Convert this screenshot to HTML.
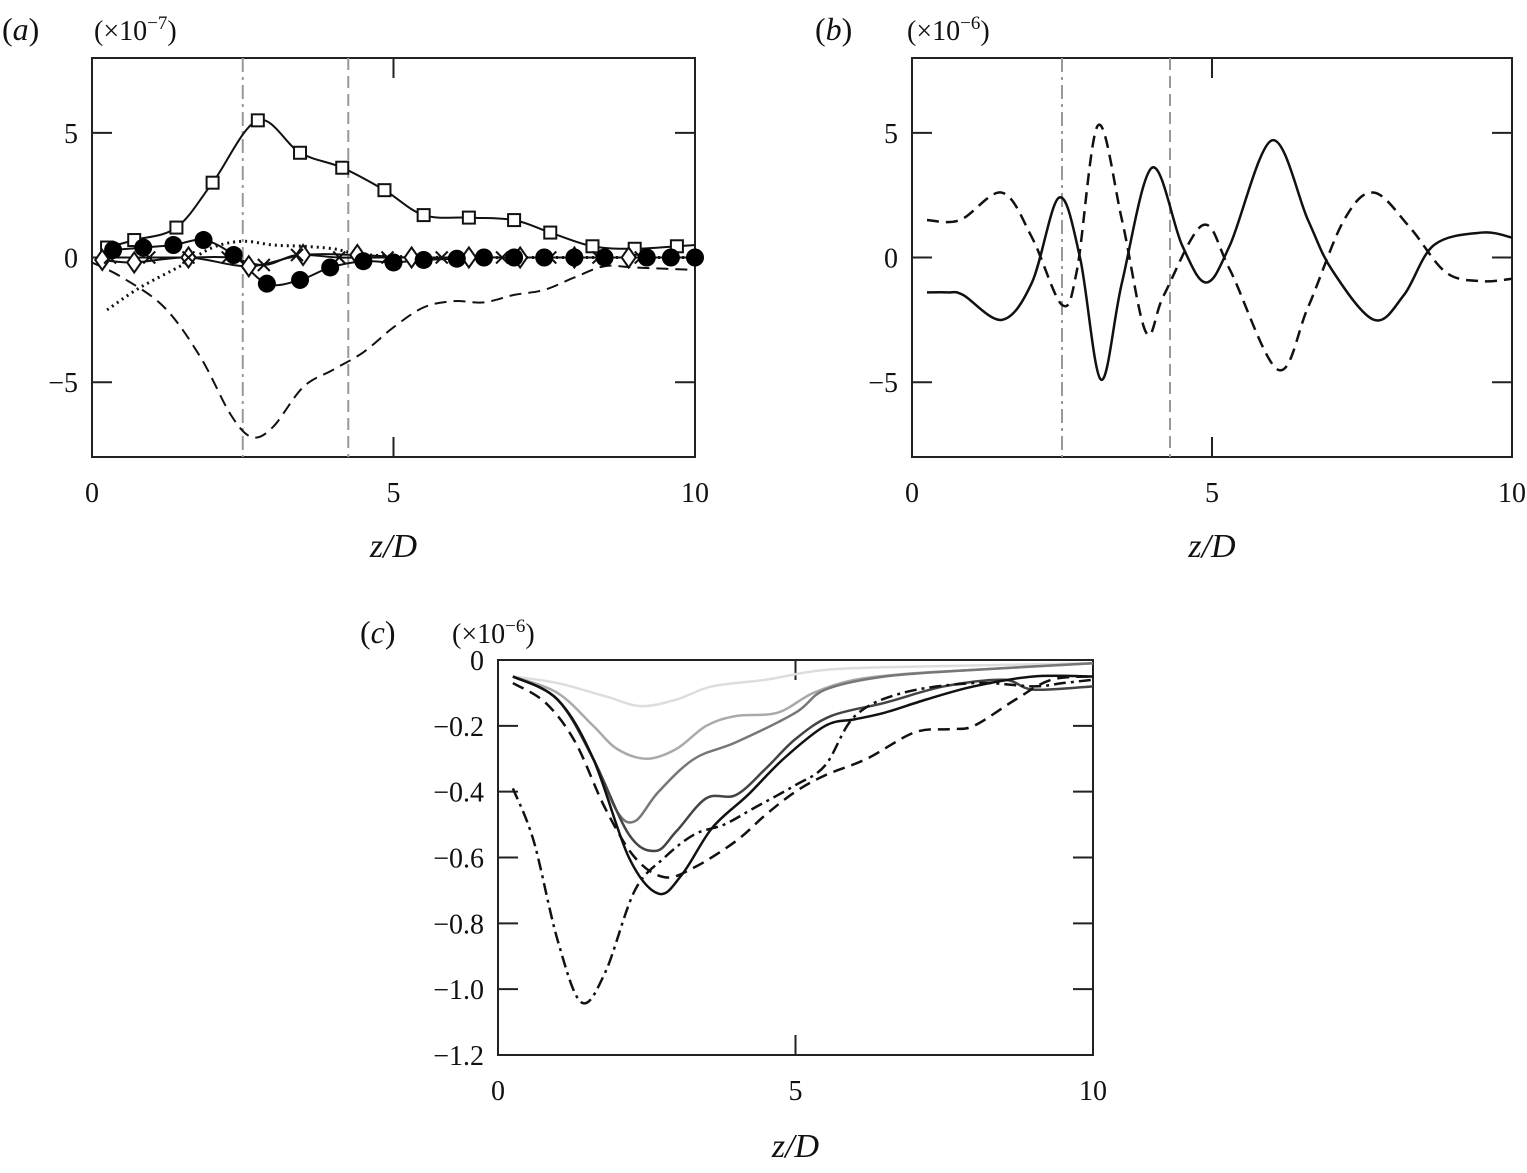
<!DOCTYPE html>
<html><head><meta charset="utf-8"><style>
body{margin:0;background:#fff;}
svg{display:block;font-family:"Liberation Serif",serif;}
</style></head><body>
<svg id="fig" width="1527" height="1173" viewBox="0 0 1527 1173"></svg>
<script>
// ---------- data ----------
const aSquares=[[0.25,0.4],[0.7,0.7],[1.4,1.2],[2.0,3.0],[2.75,5.5],[3.45,4.2],[4.15,3.6],[4.85,2.7],[5.5,1.7],[6.25,1.6],[7.0,1.5],[7.6,1.0],[8.3,0.45],[9.0,0.35],[9.7,0.45],[10,0.5]];
const aCircles=[[0.35,0.3],[0.85,0.4],[1.35,0.5],[1.85,0.7],[2.35,0.1],[2.9,-1.05],[3.45,-0.9],[3.95,-0.4],[4.5,-0.15],[5.0,-0.2],[5.5,-0.1],[6.05,-0.05],[6.5,0],[7.0,0],[7.5,0],[8.0,0],[8.5,0],[9.2,0],[9.6,0],[10,0]];
const aDiamonds=[[0.17,-0.1],[0.7,-0.2],[1.6,0],[2.6,-0.35],[3.5,0.1],[4.4,0.1],[5.3,0],[6.25,0],[7.1,0],[8.0,0],[8.9,0]];
const aCrosses=[[0.3,0],[0.95,0],[1.6,0],[2.25,0],[2.85,-0.3],[3.4,0.1],[4.1,0],[4.9,0],[5.8,0],[6.8,0],[7.6,0],[8.4,0],[9.1,0]];
const aDotted=[[0.25,-2.1],[0.8,-1.2],[1.5,-0.3],[2.0,0.4],[2.5,0.65],[3.0,0.5],[3.5,0.45],[4.0,0.35],[4.4,0.15],[5,0.05],[6,0],[8,0],[10,0]];
const aDashed=[[0,-0.2],[0.5,-0.8],[1.2,-2],[1.8,-4],[2.3,-6.3],[2.65,-7.2],[3,-6.8],[3.5,-5.2],[4,-4.5],[4.5,-3.8],[5,-2.8],[5.5,-2.0],[6,-1.75],[6.5,-1.8],[7,-1.5],[7.5,-1.3],[8,-0.8],[8.5,-0.35],[9,-0.4],[10,-0.5]];
const bSolid=[[0.25,-1.4],[0.6,-1.4],[0.85,-1.5],[1.5,-2.5],[2.0,-1],[2.45,2.4],[2.8,0],[3.15,-4.9],[3.5,-1],[4.0,3.6],[4.5,0.5],[4.9,-1.0],[5.3,0.5],[6.0,4.7],[6.6,1.5],[7.0,-0.5],[7.7,-2.5],[8.2,-1.5],[8.7,0.5],[9.5,1.0],[10,0.8]];
const bDashed=[[0.25,1.5],[0.8,1.5],[1.5,2.6],[2.0,0.8],[2.5,-1.9],[2.75,-0.5],[3.1,5.3],[3.5,1.5],[3.9,-3.0],[4.2,-1.5],[4.85,1.3],[5.3,-0.5],[6.1,-4.5],[6.6,-2],[7.2,1.5],[7.7,2.6],[8.3,1.2],[8.9,-0.6],[9.5,-0.95],[10,-0.85]];
const cLight=[[0.25,-0.05],[1,-0.07],[1.8,-0.11],[2.4,-0.14],[3,-0.12],[3.6,-0.08],[4.5,-0.06],[5.5,-0.03],[7,-0.02],[10,-0.01]];
const cGray2=[[0.25,-0.05],[1,-0.1],[1.6,-0.2],[2.0,-0.27],[2.5,-0.3],[3,-0.27],[3.5,-0.2],[4,-0.17],[4.7,-0.16],[5.3,-0.1],[6,-0.06],[7,-0.04],[8,-0.03],[10,-0.01]];
const cGray3=[[0.25,-0.05],[1,-0.12],[1.6,-0.3],[2.0,-0.46],[2.3,-0.49],[2.7,-0.4],[3.3,-0.3],[4,-0.25],[5,-0.16],[5.5,-0.09],[6.5,-0.05],[8,-0.03],[10,-0.01]];
const cDark=[[0.25,-0.05],[1,-0.12],[1.6,-0.3],[2.2,-0.53],[2.65,-0.58],[3.0,-0.52],[3.5,-0.42],[4.0,-0.41],[4.5,-0.33],[5.0,-0.24],[5.6,-0.17],[6.5,-0.13],[7.5,-0.08],[8.5,-0.06],[9,-0.09],[10,-0.08]];
const cBlack=[[0.25,-0.05],[1,-0.12],[1.6,-0.3],[2.2,-0.6],[2.7,-0.71],[3.1,-0.65],[3.6,-0.51],[4.2,-0.41],[4.8,-0.3],[5.5,-0.2],[6,-0.18],[6.5,-0.16],[7.2,-0.12],[8,-0.08],[9,-0.05],[10,-0.05]];
const cDashed=[[0.25,-0.07],[0.8,-0.13],[1.3,-0.25],[1.8,-0.45],[2.3,-0.6],[2.8,-0.66],[3.3,-0.63],[4,-0.55],[4.5,-0.47],[5,-0.4],[5.5,-0.35],[6.2,-0.3],[7,-0.22],[7.6,-0.21],[8,-0.2],[8.7,-0.12],[9.3,-0.06],[10,-0.05]];
const cDashDot=[[0.25,-0.39],[0.6,-0.55],[1,-0.85],[1.4,-1.04],[1.8,-0.95],[2.3,-0.7],[2.8,-0.6],[3.3,-0.53],[3.8,-0.5],[4.3,-0.45],[5,-0.38],[5.5,-0.32],[6,-0.17],[6.8,-0.1],[8,-0.07],[9,-0.08],[9.5,-0.07],[10,-0.06]];
const abYTicks=[5,0,-5];const abYLabels=["5","0","\u22125"];
const xTicks=[0,5,10];const xLabels=["0","5","10"];
const cYTicks=[0,-0.2,-0.4,-0.6,-0.8,-1.0,-1.2];const cYLabels=["0","\u22120.2","\u22120.4","\u22120.6","\u22120.8","\u22121.0","\u22121.2"];

const NS="http://www.w3.org/2000/svg";
const svg=document.getElementById('fig');
function el(tag,attrs,parent){const e=document.createElementNS(NS,tag);for(const k in attrs)e.setAttribute(k,attrs[k]);(parent||svg).appendChild(e);return e;}
function txt(x,y,s,size,anchor,style){const t=el('text',{x:x,y:y,'font-size':size,'text-anchor':anchor||'middle','font-style':style||'normal',fill:'#111'});t.textContent=s;return t;}
function smooth(pts){let d='M'+pts[0][0]+','+pts[0][1];for(let i=0;i<pts.length-1;i++){const p0=pts[i-1]||pts[i],p1=pts[i],p2=pts[i+1],p3=pts[i+2]||p2;
d+=' C'+(p1[0]+(p2[0]-p0[0])/6)+','+(p1[1]+(p2[1]-p0[1])/6)+' '+(p2[0]-(p3[0]-p1[0])/6)+','+(p2[1]-(p3[1]-p1[1])/6)+' '+p2[0]+','+p2[1];}return d;}
function makeAxes(x0,x1,y0,y1,ymin,ymax){return{sx:v=>x0+(v/10)*(x1-x0),sy:v=>y1-(v-ymin)/(ymax-ymin)*(y1-y0),x0,x1,y0,y1};}
function frame(ax,yt,yl,name){
  const g=el('g',{});
  el('rect',{x:ax.x0,y:ax.y0,width:ax.x1-ax.x0,height:ax.y1-ax.y0,fill:'none',stroke:'#222','stroke-width':2},g);
  yt.forEach((v,i)=>{const y=ax.sy(v);
    el('line',{x1:ax.x0,y1:y,x2:ax.x0+20,y2:y,stroke:'#222','stroke-width':2},g);el('line',{x1:ax.x1,y1:y,x2:ax.x1-20,y2:y,stroke:'#222','stroke-width':2},g);
    const t=txt(ax.x0-14,y+10,yl[i],28,'end');g.appendChild(t);});
  xTicks.forEach((v,i)=>{const x=ax.sx(v);
    el('line',{x1:x,y1:ax.y1,x2:x,y2:ax.y1-20,stroke:'#222','stroke-width':2},g);el('line',{x1:x,y1:ax.y0,x2:x,y2:ax.y0+20,stroke:'#222','stroke-width':2},g);
    const t=txt(x,ax.y1+45,xLabels[i],28);g.appendChild(t);});
}
function line(ax,data,attrs,name){const p=el('path',Object.assign({d:smooth(data.map(d=>[ax.sx(d[0]),ax.sy(d[1])])),fill:'none'},attrs));

return p;}
function vline(ax,x,dash,name){const l=el('line',{x1:ax.sx(x),x2:ax.sx(x),y1:ax.y0,y2:ax.y1,stroke:'#999','stroke-width':2,'stroke-dasharray':dash});

}
function xlabel(ax,y){const t=el('text',{x:(ax.x0+ax.x1)/2,y:y,'font-size':34,'text-anchor':'middle','font-style':'italic',fill:'#111'});t.textContent='z/D';

}
function label(x,y,letter,exp){const t=el('text',{x:x,y:y,'font-size':32,fill:'#111'});t.innerHTML='(<tspan font-style="italic">'+letter+'</tspan>)';


const s=el('text',{x:x+92,y:y,'font-size':28,fill:'#111'});s.innerHTML='(×10<tspan dy="-11" font-size="19">\u2212'+exp+'</tspan><tspan dy="11">)</tspan>';

}

// ---------- panel a ----------
const A=makeAxes(92,695,58,457,-8,8);
frame(A,abYTicks,abYLabels,'panel-a');
vline(A,2.5,'14,5,3,5','separator-dashdot-a');vline(A,4.25,'12,6','separator-dashed-a');
line(A,aDashed,{stroke:'#111','stroke-width':2,'stroke-dasharray':'12,7'},'series-dashed-a');
line(A,aDotted,{stroke:'#111','stroke-width':3,'stroke-dasharray':'2,4'},'series-dotted-a');
line(A,aSquares,{stroke:'#111','stroke-width':2},'series-squares-line');
line(A,aCircles,{stroke:'#111','stroke-width':2},'series-circles-line');
line(A,aDiamonds,{stroke:'#111','stroke-width':2},'series-diamonds-line');
line(A,aCrosses,{stroke:'#111','stroke-width':2},'series-crosses-line');
aSquares.slice(0,15).forEach(d=>{const r=el('rect',{x:A.sx(d[0])-6,y:A.sy(d[1])-6,width:12,height:12,fill:'#fff',stroke:'#111','stroke-width':2});

});
aDiamonds.forEach(d=>{const x=A.sx(d[0]),y=A.sy(d[1]);const p=el('polygon',{points:`${x},${y-10} ${x+7},${y} ${x},${y+10} ${x-7},${y}`,fill:'#fff',stroke:'#111','stroke-width':2});

});
aCrosses.forEach(d=>{const x=A.sx(d[0]),y=A.sy(d[1]);const p=el('path',{d:`M${x-6},${y-6}L${x+6},${y+6}M${x-6},${y+6}L${x+6},${y-6}`,stroke:'#111','stroke-width':2});

});
aCircles.forEach(d=>{const c=el('circle',{cx:A.sx(d[0]),cy:A.sy(d[1]),r:9,fill:'#000'});

});
xlabel(A,557);label(2,40,'a',7);

// ---------- panel b ----------
const B=makeAxes(912,1512,58,457,-8,8);
frame(B,abYTicks,abYLabels,'panel-b');
vline(B,2.5,'14,5,3,5','separator-dashdot-b');vline(B,4.3,'12,6','separator-dashed-b');
line(B,bDashed,{stroke:'#111','stroke-width':2.5,'stroke-dasharray':'12,7'},'series-dashed-b');
line(B,bSolid,{stroke:'#111','stroke-width':2.5},'series-solid-b');
xlabel(B,557);label(815,40,'b',6);

// ---------- panel c ----------
const C=makeAxes(498,1093,660,1055,-1.2,0);
frame(C,cYTicks,cYLabels,'panel-c');
line(C,cLight,{stroke:'#ddd','stroke-width':2.5},'series-lightest-c');
line(C,cGray2,{stroke:'#aaa','stroke-width':2.5},'series-light-gray-c');
line(C,cGray3,{stroke:'#777','stroke-width':2.5},'series-gray-c');
line(C,cDark,{stroke:'#444','stroke-width':2.5},'series-dark-gray-c');
line(C,cBlack,{stroke:'#111','stroke-width':2.5},'series-black-c');
line(C,cDashed,{stroke:'#111','stroke-width':2.5,'stroke-dasharray':'12,7'},'series-dashed-c');
line(C,cDashDot,{stroke:'#111','stroke-width':2.5,'stroke-dasharray':'12,5,3,5'},'series-dashdot-c');
xlabel(C,1157);label(360,643,'c',6);
</script>
</body></html>
